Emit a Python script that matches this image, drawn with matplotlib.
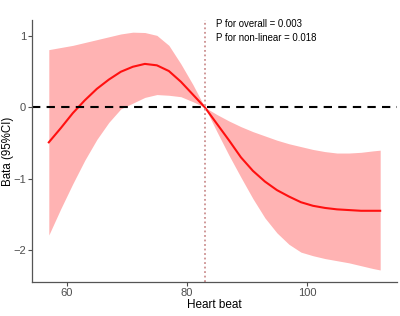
import matplotlib
matplotlib.use("Agg")
import matplotlib.pyplot as plt

plt.rcParams['font.family'] = ['Liberation Sans', 'DejaVu Sans']

heart_beat = [57, 59, 61, 63, 65, 67, 69, 71, 73, 75, 77, 79, 81, 83, 85, 87, 89, 91,
              93, 95, 97, 99, 101, 103, 105, 107, 109, 111, 112.2]
beta = [-0.49, -0.29, -0.08, 0.10, 0.26, 0.39, 0.50, 0.57, 0.61, 0.59, 0.51, 0.36, 0.18,
        0.0, -0.23, -0.46, -0.70, -0.89, -1.04, -1.16, -1.25, -1.33, -1.38, -1.41,
        -1.43, -1.44, -1.45, -1.45, -1.45]
upper = [0.81, 0.84, 0.87, 0.91, 0.95, 0.99, 1.03, 1.055, 1.05, 1.01, 0.87, 0.61, 0.32,
         0.0, -0.10, -0.19, -0.27, -0.34, -0.40, -0.46, -0.51, -0.55, -0.59, -0.62,
         -0.64, -0.64, -0.63, -0.61, -0.60]
lower = [-1.79, -1.42, -1.07, -0.74, -0.45, -0.21, -0.02, 0.06, 0.14, 0.18, 0.17, 0.15,
         0.08, 0.0, -0.34, -0.67, -0.98, -1.28, -1.55, -1.76, -1.92, -2.03, -2.08,
         -2.12, -2.15, -2.18, -2.22, -2.26, -2.28]
ref_x = 83
xticks = [60, 80, 100]
yticks = [-2, -1, 0, 1]
annot = ["P for overall = 0.003", "P for non-linear = 0.018"]

fig = plt.figure(figsize=(4.0, 3.16), dpi=100)
ax = fig.add_axes([0.08, 0.108, 0.9125, 0.829])

ax.fill_between(heart_beat, lower, upper, color='#FFB3B3', linewidth=0)
ax.plot(heart_beat, beta, color='#FF1010', linewidth=1.5)
ax.axhline(0, color='black', linestyle=(0, (4, 3)), linewidth=1.5)
ax.axvline(ref_x, color='#CC9090', linestyle=(0, (1, 1.5)), linewidth=1.3)

ax.text(84.8, 1.165, annot[0], fontsize=6.9, va='center', ha='left', color='black')
ax.text(84.8, 0.97, annot[1], fontsize=6.9, va='center', ha='left', color='black')

ax.set_xlim(54.2, 115)
ax.set_ylim(-2.447, 1.227)
ax.set_xticks(xticks)
ax.set_yticks(yticks)
ax.tick_params(colors='#4D4D4D', labelsize=8, length=3, width=0.8, pad=1.5)
ax.tick_params(axis='y', pad=1.2)
for s in ['top', 'right']:
    ax.spines[s].set_visible(False)
for s in ['left', 'bottom']:
    ax.spines[s].set_color('#555555')
    ax.spines[s].set_linewidth(0.9)

ax.set_xlabel('Heart beat', fontsize=8.5)
ax.set_ylabel('Bata (95%CI)', fontsize=8.3)
ax.xaxis.set_label_coords(0.5, -0.088)
ax.yaxis.set_label_coords(-0.066, 0.5)
ax.xaxis.label.set_verticalalignment('center')
ax.yaxis.label.set_verticalalignment('center')

fig.savefig('out.png', dpi=100)
